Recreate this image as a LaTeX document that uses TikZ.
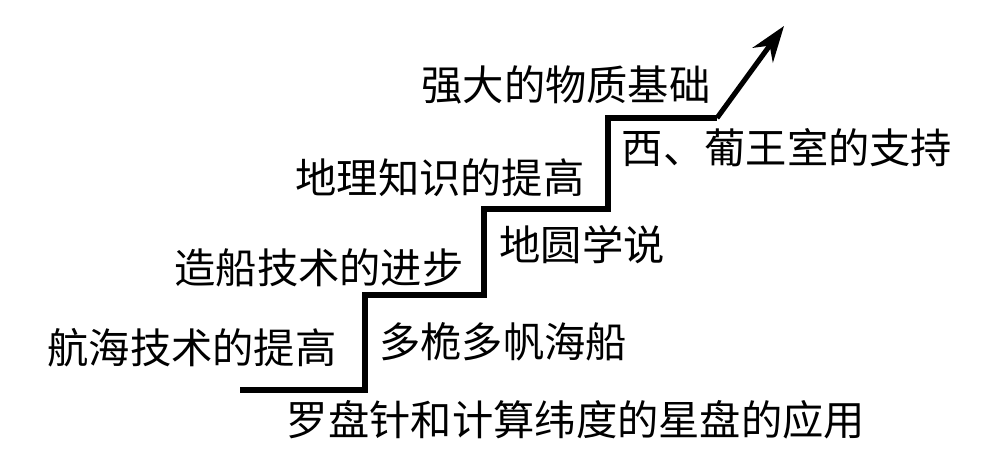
\documentclass[tikz,border=0pt]{standalone}
\usepackage{fontspec}
\setmainfont{Noto Sans CJK SC}
\usepackage{tikz}
\usetikzlibrary{arrows.meta,calc,positioning}
\tikzset{
  lbl/.style={inner sep=0pt, font=\fontsize{23.5}{26}\selectfont},
  stair/.style={line width=2.9pt, line join=miter},
  every picture/.style={line cap=butt}
}
\begin{document}
\begin{tikzpicture}
  \useasboundingbox (0,0) rectangle (20,9.38);
  \coordinate (s0) at (4.8,1.58);
  \coordinate (s1) at (7.3,1.58);
  \coordinate (s2) at (7.3,3.48);
  \coordinate (s3) at (9.68,3.48);
  \coordinate (s4) at (9.68,5.2);
  \coordinate (s5) at (12.16,5.2);
  \coordinate (s6) at (12.16,7.02);
  \coordinate (s7) at (14.34,7.02);
  \coordinate (tip) at (15.68,8.86);

  \node[lbl] (wuzhi) at (11.32,7.68) {强大的物质基础};
  \node[lbl] (wangshi) at (15.74,6.42) {西、葡王室的支持};
  \node[lbl] (dili) at (8.8,5.82) {地理知识的提高};
  \node[lbl] (diyuan) at (11.64,4.48) {地圆学说};
  \node[lbl] (zaochuan) at (6.38,4.02) {造船技术的进步};
  \node[lbl] (haichuan) at (10.06,2.54) {多桅多帆海船};
  \node[lbl] (hanghai) at (3.84,2.42) {航海技术的提高};
  \node[lbl] (luopan) at (11.52,0.98) {罗盘针和计算纬度的星盘的应用};

  \draw[stair] (s0)--(s1)--(s2)--(s3)--(s4)--(s5)--(s6)--(s7);
  \draw[stair, -{Stealth[length=0.72cm, width=0.5cm]}] (s7)--(tip);
\end{tikzpicture}
\end{document}
